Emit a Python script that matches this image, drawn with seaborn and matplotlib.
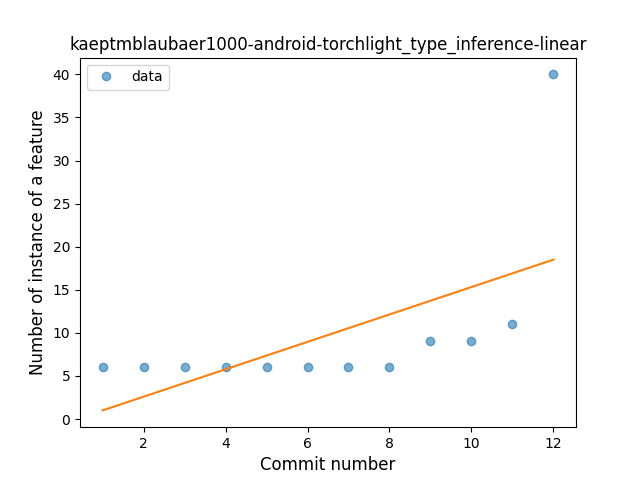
import numpy as np
import matplotlib
matplotlib.use("Agg")
import matplotlib.pyplot as plt
import seaborn as sns

commits = np.arange(1, 13)
counts = np.array([6, 6, 6, 6, 6, 6, 6, 6, 9, 9, 11, 40])

# linear fit of the data
slope, intercept = np.polyfit(commits, counts, 1)
fit = slope * commits + intercept

fig, ax = plt.subplots(figsize=(6.4, 4.8), dpi=100)
ax.plot(commits, counts, 'o', color='C0', alpha=0.6, label='data')
sns.lineplot(x=commits, y=fit, color='C1', ax=ax)
ax.set_title('kaeptmblaubaer1000-android-torchlight_type_inference-linear')
ax.set_xlabel('Commit number', fontsize=12)
ax.set_ylabel('Number of instance of a feature', fontsize=12)
ax.legend(loc='upper left')
fig.savefig('out.png')
